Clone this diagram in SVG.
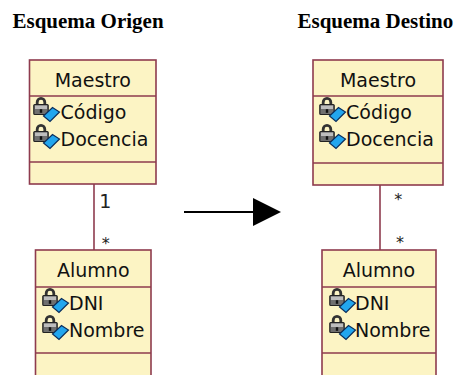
<svg xmlns="http://www.w3.org/2000/svg" xmlns:xlink="http://www.w3.org/1999/xlink" width="456" height="375" viewBox="0 0 456 375">
<style>
.title{font-family:"Liberation Serif","Times New Roman",serif;font-weight:bold;font-size:21px;fill:#000}
.box{fill:#FCF4C4;stroke:#8E3B4E;stroke-width:1.6}
.div{stroke:#8E3B4E;stroke-width:1.6;fill:none}
.name{font-family:"DejaVu Sans",sans-serif;font-size:19px;fill:#111;text-anchor:middle}
.attr{font-family:"DejaVu Sans",sans-serif;font-size:19px;fill:#111}
.mult{font-family:"DejaVu Sans",sans-serif;font-size:19px;fill:#222;text-anchor:middle}
.star{font-family:"DejaVu Sans",sans-serif;font-size:16px;fill:#222;text-anchor:middle}
.assoc{stroke:#8E3B4E;stroke-width:1.6;fill:none}
</style>
<defs>
<symbol id="attrIcon" viewBox="0 0 27 25" width="27" height="25" overflow="visible">
<path d="M4.2 8 V5.2 a3.8 3.8 0 0 1 7.6 0 V8" fill="none" stroke="#333" stroke-width="2.8"/>
<rect x="0.8" y="7.5" width="14.4" height="10" rx="1" fill="#6f6f6f" stroke="#222" stroke-width="1.2"/>
<rect x="2" y="8.6" width="12" height="3.4" fill="#bdbdbd"/>
<rect x="6.8" y="12.2" width="2.4" height="3.6" fill="#111"/>
<polygon points="10.5,19 19.5,10.5 26.5,15 17,24.5" fill="#22A6EE" stroke="#0B2E5C" stroke-width="1.2"/>
</symbol>
<marker id="tri" viewBox="0 0 28 28" refX="0" refY="14" markerWidth="28" markerHeight="28" markerUnits="userSpaceOnUse" orient="auto">
<polygon points="0,0 28,14 0,28" fill="#000"/>
</marker>
</defs>

<text class="title" x="12.5" y="28">Esquema Origen</text>
<text class="title" x="297.5" y="28">Esquema Destino</text>

<g id="connectors">
<line class="assoc" x1="94" y1="184" x2="94" y2="250"/>
<text class="mult" x="105.3" y="208">1</text>
<text class="star" x="105.7" y="249">*</text>
<line class="assoc" x1="380" y1="185" x2="380" y2="250"/>
<text class="star" x="398.3" y="205">*</text>
<text class="star" x="400" y="248">*</text>
<line x1="184" y1="212" x2="253" y2="212" stroke="#000" stroke-width="2" marker-end="url(#tri)"/>
</g>

<g id="maestro-origen">
<rect class="box" x="29.5" y="60" width="126.5" height="124"/>
<line class="div" x1="29.5" y1="96" x2="156" y2="96"/>
<line class="div" x1="29.5" y1="162" x2="156" y2="162"/>
<text class="name" x="92.75" y="87">Maestro</text>
<use xlink:href="#attrIcon" x="33" y="97"/>
<text class="attr" x="60.5" y="119">Código</text>
<use xlink:href="#attrIcon" x="33" y="124"/>
<text class="attr" x="60.5" y="146">Docencia</text>
</g>

<g id="alumno-origen">
<rect class="box" x="35.5" y="250" width="115.5" height="135"/>
<line class="div" x1="35.5" y1="287" x2="151" y2="287"/>
<line class="div" x1="35.5" y1="353" x2="151" y2="353"/>
<text class="name" x="93.3" y="277">Alumno</text>
<use xlink:href="#attrIcon" x="42" y="288"/>
<text class="attr" x="69" y="310">DNI</text>
<use xlink:href="#attrIcon" x="42" y="315"/>
<text class="attr" x="69" y="337">Nombre</text>
</g>

<g id="maestro-destino">
<rect class="box" x="313" y="60" width="130" height="125"/>
<line class="div" x1="313" y1="96" x2="443" y2="96"/>
<line class="div" x1="313" y1="163" x2="443" y2="163"/>
<text class="name" x="378" y="87">Maestro</text>
<use xlink:href="#attrIcon" x="319" y="97"/>
<text class="attr" x="346" y="119">Código</text>
<use xlink:href="#attrIcon" x="319" y="124"/>
<text class="attr" x="346" y="146">Docencia</text>
</g>

<g id="alumno-destino">
<rect class="box" x="322" y="250" width="114" height="135"/>
<line class="div" x1="322" y1="287" x2="436" y2="287"/>
<line class="div" x1="322" y1="353" x2="436" y2="353"/>
<text class="name" x="379" y="277">Alumno</text>
<use xlink:href="#attrIcon" x="329" y="288"/>
<text class="attr" x="355" y="310">DNI</text>
<use xlink:href="#attrIcon" x="329" y="315"/>
<text class="attr" x="355" y="337">Nombre</text>
</g>
</svg>
